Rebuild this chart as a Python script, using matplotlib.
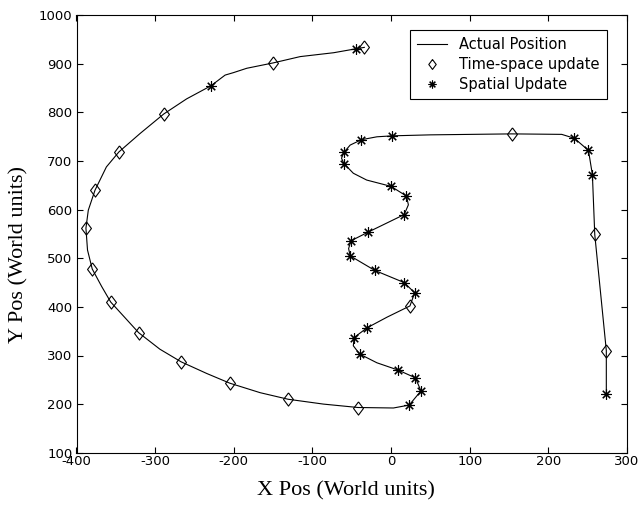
import matplotlib
matplotlib.use("Agg")
import matplotlib.pyplot as plt

plt.rcParams["axes.unicode_minus"] = False

# Actual position path
path_x = [-34, -45, -73, -115.6, -150, -183.5, -200.5, -211, -229, -260, -289, -319, -346,
          -362, -376.5, -385, -388, -386, -380, -368, -356.5, -321, -294, -267, -234.4, -205,
          -166.5, -131, -86, -42, 3, 23, 38, 31, 9, -18, -40, -48, -47, -30.5, -5, 24, 30,
          16.7, -20.6, -52, -54, -51, -29, 16.7, 22, 19.6, 0, -31, -48, -60, -63, -60, -52,
          -37.7, -18, 1.8, 50, 153.7, 217, 233, 251, 256, 259, 273.7, 273.7]
path_y = [934, 931, 923, 915, 902, 891, 882, 877, 855, 828, 797, 757, 719,
          688, 640, 599, 562, 517, 478, 442, 410, 347, 313, 287, 263, 243,
          223.5, 210, 200, 193, 192, 198, 227, 254, 270, 285, 303, 320, 337, 357, 379, 402, 429,
          450, 475, 505, 520, 536, 554, 590, 610, 628, 648, 661, 675, 695, 706, 718, 733,
          744, 750, 752, 754, 756, 755, 747, 722, 672, 549, 310, 221]

# Time-space update markers
ts_x = [-34, -150, -289, -346, -376.5, -388, -380, -356.5, -321, -267, -205, -131, -42,
        24, 153.7, 259, 273.7]
ts_y = [934, 902, 797, 719, 640, 562, 478, 410, 347, 287, 243, 210, 193,
        402, 756, 549, 310]

# Spatial update markers
sp_x = [-45, -229, 23, 38, 31, 9, -40, -47, -30.5, 30, 16.7, -20.6, -52, -51, -29, 16.7,
        19.6, 0, -60, -60, -37.7, 1.8, 233, 251, 256, 273.7]
sp_y = [931, 855, 198, 227, 254, 270, 303, 337, 357, 429, 450, 475, 505, 536, 554, 590,
        628, 648, 695, 718, 744, 752, 747, 722, 672, 221]

labels = ["Actual Position", "Time-space update", "Spatial Update"]

fig = plt.figure(figsize=(6.44, 5.09), dpi=100)
ax = fig.add_axes([76.5/644, 1-452.7/509, (627-76.5)/644, (452.7-15.3)/509])

diamond = [(0, 1), (0.75, 0), (0, -1), (-0.75, 0), (0, 1)]

ax.plot(path_x, path_y, color="black", lw=0.8, label=labels[0])
ax.plot(ts_x, ts_y, ls="none", marker=diamond, markersize=9.5, markerfacecolor="none",
        markeredgecolor="black", markeredgewidth=0.8, label=labels[1])
ax.plot(sp_x, sp_y, ls="none", marker=(8, 2, 0), markersize=7.5, color="black",
        markeredgewidth=0.8, label=labels[2])

ax.set_xlim(-400, 300)
ax.set_ylim(100, 1000)
ax.set_xticks(range(-400, 301, 100))
ax.set_yticks(range(100, 1001, 100))

ax.tick_params(direction="in", top=True, right=True, length=4, width=0.8,
               labelsize=9.5, colors="black")
ax.tick_params(axis="x", pad=2)
ax.tick_params(axis="y", pad=3)
for s in ax.spines.values():
    s.set_linewidth(0.8)

ax.set_xlabel("X Pos (World units)", family="Liberation Serif", fontsize=16)
ax.set_ylabel("Y Pos (World units)", family="Liberation Serif", fontsize=16)
ax.xaxis.set_label_coords(0.49, -0.065)
ax.yaxis.set_label_coords(-0.088, 0.452)

leg = ax.legend(loc="upper right", bbox_to_anchor=(0.9637, 0.9664), borderaxespad=0,
                fancybox=False, edgecolor="black", framealpha=1, fontsize=10.5,
                markerscale=0.75, labelspacing=0.33, handlelength=2.05, handletextpad=0.82,
                borderpad=0.5)
leg.get_frame().set_linewidth(0.8)

fig.savefig("out.png", dpi=100)
